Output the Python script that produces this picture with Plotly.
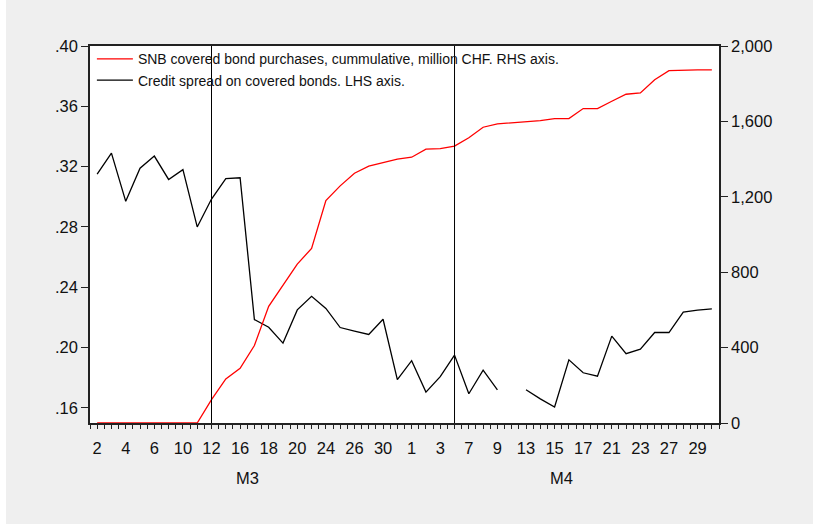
import plotly.graph_objects as go

# Trading days (March and April), day-of-month labels
days = [2, 3, 4, 5, 6, 9, 10, 11, 12, 13, 16, 17, 18, 19, 20, 23, 24, 25, 26, 27, 30, 31,
        1, 2, 3, 6, 7, 8, 9, 10, 13, 14, 15, 16, 17, 20, 21, 22, 23, 24, 27, 28, 29, 30]
months = ["M3"] * 22 + ["M4"] * 22

# Credit spread on covered bonds (LHS), None = no quote
spread = [0.315, 0.329, 0.297, 0.319, 0.327, 0.3115, 0.318, 0.280, 0.2985, 0.312, 0.3126,
          0.2186, 0.2135, 0.203, 0.225, 0.234, 0.226, 0.2133, 0.2109, 0.2087, 0.2188, 0.1787,
          0.1913, 0.1705, 0.1807, 0.195, 0.1694, 0.185, 0.172, None, 0.172, 0.166, 0.1606,
          0.1919, 0.1833, 0.181, 0.2076, 0.196, 0.199, 0.210, 0.210, 0.2235, 0.2248, 0.2257]

# SNB covered bond purchases, cumulative, million CHF (RHS)
purchases = [0, 0, 0, 0, 0, 0, 0, 0, 124, 234, 290,
             411, 619, 728, 843, 926, 1180, 1258, 1325, 1363, 1382, 1400,
             1410, 1453, 1456, 1469, 1513, 1569, 1587, 1592, 1597, 1604, 1615,
             1615, 1668, 1668, 1707, 1744, 1751, 1821, 1869, 1873, 1873, 1873]

# Event dates marked with vertical lines (observation positions)
event_idx = [8, 25]

left_ticks = [0.16, 0.20, 0.24, 0.28, 0.32, 0.36, 0.40]
right_ticks = [0, 400, 800, 1200, 1600, 2000]

x = list(range(len(days)))
label_idx = x[::2]
label_txt = [str(days[i]) for i in label_idx]

FONT = "Liberation Sans, Arial, sans-serif"
AX = "#222222"
TICK_SIZE = 16.5

fig = go.Figure()
fig.add_trace(go.Scatter(
    x=x, y=purchases, yaxis="y2", mode="lines",
    line=dict(color="#ff0000", width=1.3),
    name="SNB covered bond purchases, cummulative, million CHF. RHS axis."))
fig.add_trace(go.Scatter(
    x=x, y=spread, mode="lines", connectgaps=False,
    line=dict(color="#000000", width=1.3),
    name="Credit spread on covered bonds. LHS axis."))

for i in event_idx:
    fig.add_shape(type="line", xref="x", yref="paper", x0=i, x1=i, y0=0, y1=1,
                  line=dict(color="black", width=1))

# month labels centred under each month's block of observations
for m in ["M3", "M4"]:
    idx = [i for i, mm in enumerate(months) if mm == m]
    fig.add_annotation(x=(idx[0] + idx[-1]) / 2, y=-0.147, xref="x", yref="paper",
                       text=m, showarrow=False, yanchor="middle",
                       font=dict(size=TICK_SIZE, color="#111", family=FONT))

# white strip on the left edge of the page
fig.add_shape(type="rect", xref="paper", yref="paper", x0=-0.2, x1=-0.1335, y0=-0.5, y1=1.5,
              fillcolor="white", line=dict(width=0), layer="below")

fig.update_layout(
    width=813, height=524,
    margin=dict(l=90, r=94, t=46, b=101),
    paper_bgcolor="#efefef", plot_bgcolor="white",
    font=dict(family=FONT, size=TICK_SIZE, color="#111"),
    showlegend=True,
    legend=dict(x=0.003, y=1.007, xanchor="left", yanchor="top",
                bgcolor="rgba(0,0,0,0)", font=dict(size=14, family=FONT, color="#111"),
                tracegroupgap=0, itemwidth=36),
    xaxis=dict(range=[-0.5, len(days) - 0.5], tickmode="array", tickvals=label_idx,
               ticktext=label_txt, ticks="outside", ticklen=4, tickcolor=AX,
               showgrid=False, zeroline=False, showline=True, linecolor=AX, linewidth=1.5,
               mirror=True, ticklabelstandoff=5,
               minor=dict(ticks="outside", dtick=0.5, tick0=-0.5, ticklen=4,
                          tickcolor=AX, showgrid=False),
               tickfont=dict(size=TICK_SIZE)),
    yaxis=dict(range=[0.15, 0.40], tickmode="array", tickvals=left_ticks,
               ticktext=["." + f"{v:.2f}".split(".")[1] for v in left_ticks],
               ticks="outside", ticklen=7, tickcolor=AX, showgrid=False, zeroline=False,
               showline=True, linecolor=AX, linewidth=1.5, tickfont=dict(size=TICK_SIZE)),
    yaxis2=dict(range=[0, 2000], overlaying="y", side="right", tickmode="array",
                tickvals=right_ticks, ticktext=[f"{v:,}" for v in right_ticks],
                ticks="outside", ticklen=7, tickcolor=AX, showgrid=False, zeroline=False,
                showline=True, linecolor=AX, linewidth=1.5, tickfont=dict(size=TICK_SIZE)),
)

fig.write_html("out.html")
